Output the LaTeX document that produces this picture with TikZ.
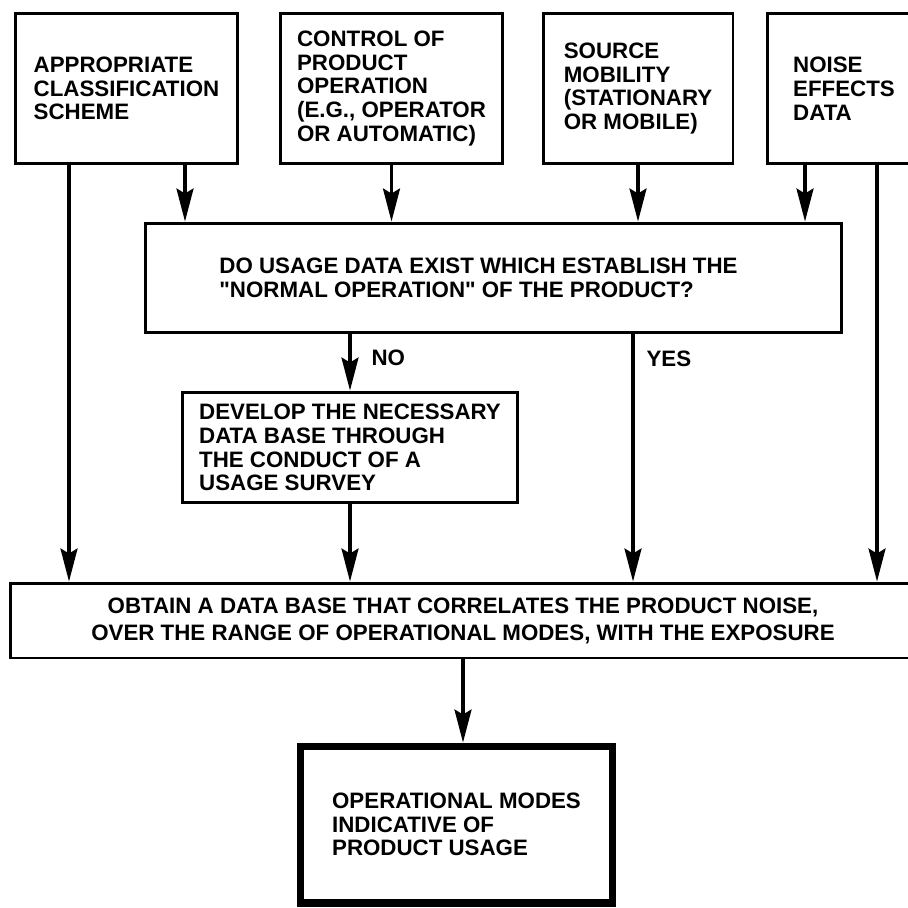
\documentclass[tikz,border=0pt]{standalone}
\usepackage{fontspec}
\setmainfont{Liberation Sans}
\usetikzlibrary{arrows.meta,positioning}

\begin{document}
\begin{tikzpicture}[
    x=0.02cm, y=-0.02cm,
    box/.style={draw, line width=1.7pt, align=left, inner sep=2pt, font=\bfseries\fontsize{12.7}{13.5}\selectfont},
    endbox/.style={box, line width=4pt},
    arr/.style={-{Stealth[length=0.66cm, width=0.34cm, inset=0.1cm]}, line width=1.8pt},
    lbl/.style={font=\bfseries\fontsize{12.7}{13.5}\selectfont, inner sep=0pt}
]
\useasboundingbox (0,0) rectangle (907,908);

% inputs along the top
\node[box, minimum width=4.46cm, minimum height=3.02cm] (cls) at (126.5,88.5) {APPROPRIATE\\CLASSIFICATION\\SCHEME};
\node[box, minimum width=4.46cm, minimum height=3.02cm] (ctl) at (391.5,88.5) {CONTROL OF\\PRODUCT\\OPERATION\\(E.G., OPERATOR\\OR AUTOMATIC)};
\node[box, minimum width=3.8cm, minimum height=3.02cm] (src) at (638,88.5) {SOURCE\\MOBILITY\\(STATIONARY\\OR MOBILE)};
\node[box, minimum width=3.08cm, minimum height=3.02cm] (nse) at (844,88.5) {NOISE\\EFFECTS\\DATA};

% decision and survey
\node[box, minimum width=13.94cm, minimum height=2.2cm] (qst) at (493.5,278) {DO USAGE DATA EXIST WHICH ESTABLISH THE\rule{0.6cm}{0pt}\\\textquotedbl NORMAL OPERATION\textquotedbl{} OF THE PRODUCT?};
\node[box, minimum width=6.72cm, minimum height=2.22cm] (dev) at (350,447.5) {DEVELOP THE NECESSARY\\DATA BASE THROUGH\\THE CONDUCT OF A\\USAGE SURVEY};

% data base and result
\node[box, align=center, minimum width=18.12cm, minimum height=1.5cm, font=\bfseries\fontsize{12.7}{15.4}\selectfont] (obt) at (463,620.5) {OBTAIN A DATA BASE THAT CORRELATES THE PRODUCT NOISE,\\OVER THE RANGE OF OPERATIONAL MODES, WITH THE EXPOSURE};
\node[endbox, minimum width=6.26cm, minimum height=3.14cm] (mod) at (456.5,824.5) {OPERATIONAL MODES\\INDICATIVE OF\\PRODUCT USAGE};

\coordinate (xl) at (69,0);
\coordinate (xa) at (185,0);
\coordinate (xd) at (805,0);
\coordinate (xr) at (877,0);
\coordinate (xy) at (633,0);

\draw[arr] (cls.south -| xl) -- (obt.north -| xl);
\draw[arr] (cls.south -| xa) -- (qst.north -| xa);
\draw[arr] (ctl.south) -- (ctl.south |- qst.north);
\draw[arr] (src.south) -- (src.south |- qst.north);
\draw[arr] (nse.south -| xd) -- (qst.north -| xd);
\draw[arr] (nse.south -| xr) -- (obt.north -| xr);
\draw[arr] (qst.south -| dev.north) -- node[lbl, right=0.4cm, pos=.42] {NO} (dev.north);
\draw[arr] (qst.south -| xy) -- node[lbl, right=0.24cm, pos=.1] {YES} (obt.north -| xy);
\draw[arr] (dev.south) -- (dev.south |- obt.north);
\draw[arr] (obt.south) -- (obt.south |- mod.north);
\end{tikzpicture}
\end{document}
